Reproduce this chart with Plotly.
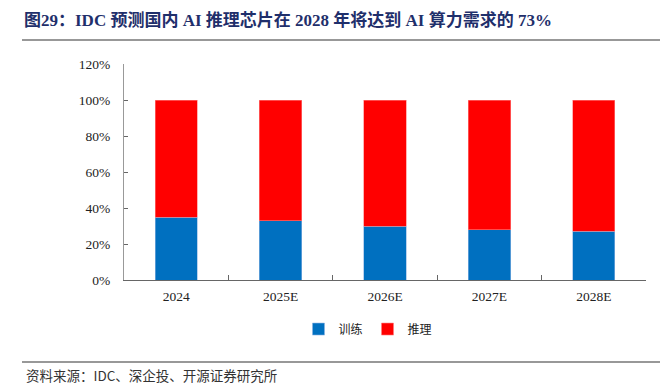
import plotly.graph_objects as go

categories = ["2024", "2025E", "2026E", "2027E", "2028E"]
training = [0.35, 0.33, 0.30, 0.28, 0.27]
inference = [0.65, 0.67, 0.70, 0.72, 0.73]
title_text = "图29：IDC 预测国内 AI 推理芯片在 2028 年将达到 AI 算力需求的 73%"
source_text = "资料来源：IDC、深企投、开源证券研究所"

serif = "Liberation Serif, Times New Roman, Noto Sans CJK SC"
PW, PH, L, T = 522, 216, 124, 64

fig = go.Figure()
fig.add_trace(go.Bar(x=categories, y=training, name="训练", marker=dict(color="#0070C0", line=dict(color="#8DB4E2", width=0.6)), width=0.405))
fig.add_trace(go.Bar(x=categories, y=inference, name="推理", marker=dict(color="#FF0000", line=dict(color="#FF8080", width=0.6)), width=0.405))

fig.update_layout(
    barmode="stack",
    width=671, height=385,
    margin=dict(l=L, r=671 - L - PW, t=T, b=385 - T - PH),
    paper_bgcolor="white", plot_bgcolor="white",
    showlegend=True,
    legend=dict(orientation="h", x=(368 - L) / PW, y=-0.16, xanchor="center", yanchor="top",
                font=dict(family="Noto Sans CJK SC", size=12, color="#222"),
                itemwidth=30, traceorder="normal"),
    font=dict(family=serif, size=13, color="#222"),
    xaxis=dict(type="category", showline=True, linecolor="#666", linewidth=1.2,
               ticks="inside", tickson="boundaries", ticklen=5, tickcolor="#666",
               ticklabelstandoff=4,
               tickfont=dict(family=serif, size=13.5, color="#222"), showgrid=False),
    yaxis=dict(range=[0, 1.2], dtick=0.2, tickformat=".0%", showline=True,
               linecolor="#999", linewidth=1.2, ticks="inside", ticklen=4, tickcolor="#666",
               ticklabelstandoff=10,
               tickfont=dict(family=serif, size=13.5, color="#222"), showgrid=False, zeroline=False),
)

fig.add_annotation(text="<b>" + title_text + "</b>", xref="paper", yref="paper",
                   x=(22 - L) / PW, y=1 + (T - 20) / PH, xanchor="left", yanchor="middle",
                   showarrow=False, font=dict(family=serif, size=17, color="#1F2F6B"))
fig.add_annotation(text=source_text, xref="paper", yref="paper",
                   x=(24 - L) / PW, y=-(375 - T - PH) / PH, xanchor="left", yanchor="middle",
                   showarrow=False, font=dict(family="Noto Sans CJK SC", size=13.5, color="#333"))
fig.add_shape(type="line", xref="paper", yref="paper",
              x0=(22 - L) / PW, x1=(660 - L) / PW, y0=1 + (T - 40) / PH, y1=1 + (T - 40) / PH,
              line=dict(color="#333", width=1.2))
fig.add_shape(type="line", xref="paper", yref="paper",
              x0=(22 - L) / PW, x1=(660 - L) / PW, y0=-(362 - T - PH) / PH, y1=-(362 - T - PH) / PH,
              line=dict(color="#333", width=1.2))

fig.write_html("out.html", config={"displayModeBar": False},
               post_script="document.body.style.margin='0';document.body.style.overflow='hidden';")
